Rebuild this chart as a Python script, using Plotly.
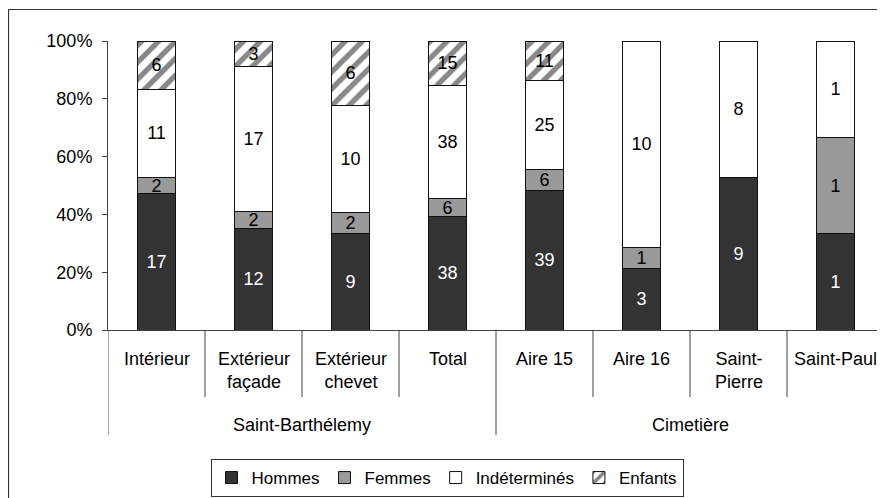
import plotly.graph_objects as go

categories = ["Intérieur", "Extérieur<br>façade", "Extérieur<br>chevet", "Total",
              "Aire 15", "Aire 16", "Saint-<br>Pierre", "Saint-Paul"]
groups = ["Saint-Barthélemy", "Cimetière"]
group_members = [4, 4]

hommes = [17, 12, 9, 38, 39, 3, 9, 1]
femmes = [2, 2, 2, 6, 6, 1, 0, 1]
indetermines = [11, 17, 10, 38, 25, 10, 8, 1]
enfants = [6, 3, 6, 15, 11, 0, 0, 0]

y_ticks = [0, 0.2, 0.4, 0.6, 0.8, 1.0]

FONT = "Liberation Sans, Arial, sans-serif"
FS = 18
OFF = 8  # page body margin
W, H = 885 - OFF, 498 - OFF
PLOT_L, PLOT_R, PLOT_T, PLOT_B = 108, 884, 41, 330  # page coordinates
L, T = PLOT_L - OFF, PLOT_T - OFF
R = W - (PLOT_R - OFF)
B = H - (PLOT_B - OFF)
PW, PH = PLOT_R - PLOT_L, PLOT_B - PLOT_T

def py2paper(py):
    return (PLOT_B - py) / PH

def px2paper(px):
    return (px - PLOT_L) / PW

x = list(range(len(categories)))

def labels(vals):
    return [str(v) if v else "" for v in vals]

series = [
    ("Hommes", hommes, dict(color="#333333"), "white"),
    ("Femmes", femmes, dict(color="#999999"), "black"),
    ("Indéterminés", indetermines, dict(color="white"), "black"),
    ("Enfants", enfants, dict(color="white",
                              pattern=dict(shape="/", fgcolor="#111111", bgcolor="white",
                                           size=12, solidity=0.45)), "black"),
]

fig = go.Figure()
for name, vals, marker, tcol in series:
    m = dict(marker)
    m["line"] = dict(color="#111111", width=1)
    fig.add_trace(go.Bar(
        x=x, y=vals, name=name, width=0.4,
        marker=m, text=labels(vals), textposition="inside", textangle=0,
        insidetextanchor="middle", constraintext="none",
        textfont=dict(family=FONT, size=FS, color=tcol),
        hoverinfo="skip",
    ))

shapes = []
# outer frame (chart border)
shapes.append(dict(type="rect", xref="paper", yref="paper",
                   x0=px2paper(8.5), x1=px2paper(900), y0=py2paper(520), y1=py2paper(9.5),
                   line=dict(color="#333333", width=1.2), fillcolor="rgba(0,0,0,0)", layer="below"))
# category separators
inner_bottom = py2paper(397)
group_bottom = py2paper(435)
start = 0
group_bounds = [-0.5]
for n in group_members:
    start += n
    group_bounds.append(start - 0.5)
for i in range(len(categories) + 1):
    xb = i - 0.5
    yb = group_bottom if xb in group_bounds else inner_bottom
    shapes.append(dict(type="line", xref="x", yref="paper", x0=xb, x1=xb, y0=0, y1=yb,
                       line=dict(color="#404040", width=1)))

annotations = []
for i, c in enumerate(categories):
    annotations.append(dict(x=i, y=py2paper(347), xref="x", yref="paper", text=c,
                            showarrow=False, yanchor="top", xanchor="center",
                            font=dict(family=FONT, size=FS, color="black")))
start = 0
for g, n in zip(groups, group_members):
    annotations.append(dict(x=start + (n - 1) / 2, y=py2paper(413), xref="x", yref="paper",
                            text=g, showarrow=False, yanchor="top", xanchor="center",
                            font=dict(family=FONT, size=FS, color="black")))
    start += n

fig.update_layout(
    width=W, height=H,
    margin=dict(l=L, r=R, t=T, b=B),
    paper_bgcolor="white", plot_bgcolor="white",
    barmode="stack", barnorm="fraction",
    font=dict(family=FONT, size=FS, color="black"),
    uniformtext=dict(minsize=FS, mode="show"),
    xaxis=dict(range=[-0.5, len(categories) - 0.5], showticklabels=False, ticks="",
               showgrid=False, zeroline=False, showline=True, linecolor="#404040", linewidth=1),
    yaxis=dict(range=[0, 1], tickvals=y_ticks, tickformat=".0%", ticks="outside", ticklen=5,
               tickcolor="#404040", showgrid=False, zeroline=False, showline=True,
               linecolor="#404040", linewidth=1, ticklabelstandoff=6,
               tickfont=dict(family=FONT, size=FS, color="black")),
    shapes=shapes, annotations=annotations,
    showlegend=True,
    legend=dict(orientation="h", x=px2paper(447), xanchor="center", y=py2paper(459), yanchor="top",
                traceorder="normal",
                bordercolor="#333333", borderwidth=1, bgcolor="white",
                font=dict(family=FONT, size=17, color="black"),
                itemclick=False, itemdoubleclick=False, tracegroupgap=0),
)

fig.write_html("out.html")
